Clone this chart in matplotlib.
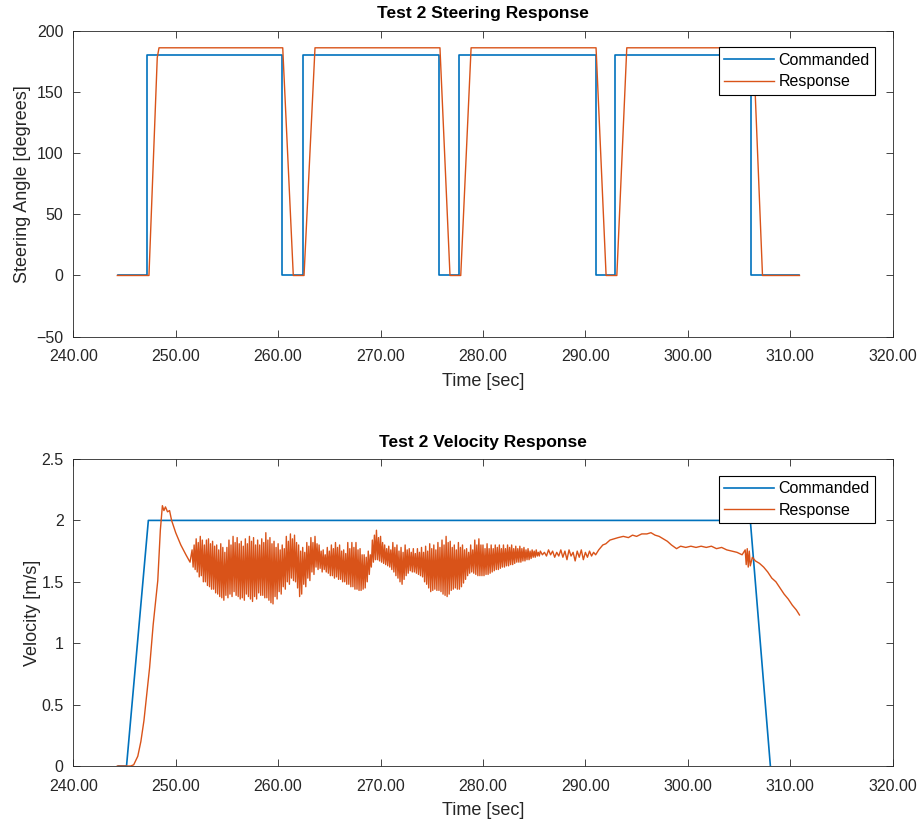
import numpy as np
import matplotlib
matplotlib.use('Agg')
import matplotlib.pyplot as plt
from matplotlib.ticker import FormatStrFormatter

plt.rcParams['font.family'] = ['Liberation Sans', 'DejaVu Sans']

blue = '#0072BD'
orange = '#D95319'

## steering test
steer_cmd_t = [244.4, 247.23, 247.23, 260.41, 260.41, 262.46, 262.46, 275.71, 275.71,
               277.70, 277.70, 291.02, 291.02, 292.93, 292.93, 306.15, 306.15, 310.9]
steer_cmd_v = [0, 0, 180, 180, 0, 0, 180, 180, 0, 0, 180, 180, 0, 0, 180, 180, 0, 0]

steer_resp_t = [244.3, 247.39, 248.2, 248.37, 260.45, 261.48, 262.53, 263.6, 275.8, 276.78,
                277.83, 278.84, 291.04, 292.02, 293.07, 294.04, 306.4, 307.29, 310.9]
steer_resp_v = [0, 0, 178, 186, 186, 0, 0, 186, 186, 0, 0, 186, 186, 0, 0, 186, 186, 0, 0]

## velocity test
vel_cmd_t = [244.4, 245.2, 247.33, 306.1, 308.06]
vel_cmd_v = [0, 0, 2, 2, 0]

# spin-up and overshoot
rise_t = [244.3, 245.6, 245.9, 246.3, 246.6, 246.9, 247.2, 247.45, 247.8, 248.25, 248.5,
          248.7, 248.85, 249.0, 249.2, 249.4, 249.6, 250.0, 250.5, 251.0, 251.4]
rise_v = [0, 0, 0.01, 0.08, 0.2, 0.37, 0.6, 0.8, 1.15, 1.51, 1.92,
          2.12, 2.08, 2.11, 2.07, 2.08, 2.0, 1.90, 1.80, 1.72, 1.66]

# oscillation, one peak and one trough every 0.2 s from 251.6 s (a row is 2 s)
osc_peak = [1.76, 1.80, 1.85, 1.82, 1.87, 1.84, 1.80, 1.84, 1.85, 1.81,
            1.83, 1.79, 1.80, 1.76, 1.81, 1.78, 1.74, 1.78, 1.84, 1.80,
            1.87, 1.82, 1.86, 1.81, 1.83, 1.79, 1.85, 1.81, 1.87, 1.83,
            1.86, 1.80, 1.84, 1.80, 1.85, 1.82, 1.90, 1.84, 1.86, 1.81,
            1.83, 1.78, 1.81, 1.76, 1.80, 1.77, 1.87, 1.83, 1.89, 1.85,
            1.88, 1.82, 1.80, 1.75, 1.78, 1.74, 1.82, 1.79, 1.86, 1.82,
            1.87, 1.81, 1.80, 1.75, 1.76, 1.72, 1.78, 1.75, 1.80, 1.77,
            1.82, 1.78, 1.80, 1.75, 1.76, 1.73, 1.82, 1.77, 1.82, 1.78,
            1.82, 1.76, 1.77, 1.72, 1.72, 1.70, 1.75, 1.72, 1.84, 1.88,
            1.92, 1.86, 1.87, 1.82, 1.80, 1.77, 1.79, 1.76, 1.82, 1.78,
            1.80, 1.75, 1.78, 1.74, 1.80, 1.76, 1.77, 1.74, 1.77, 1.73,
            1.77, 1.74, 1.78, 1.74, 1.79, 1.75, 1.81, 1.77, 1.80, 1.76,
            1.82, 1.78, 1.84, 1.80, 1.87, 1.82, 1.83, 1.78, 1.80, 1.76,
            1.82, 1.78, 1.80, 1.76, 1.77, 1.74, 1.80, 1.76, 1.84, 1.80,
            1.85, 1.80, 1.80, 1.77, 1.81, 1.77, 1.80, 1.77, 1.80, 1.78,
            1.80, 1.77, 1.80, 1.77, 1.80, 1.78, 1.80, 1.77, 1.79, 1.77,
            1.79, 1.77, 1.78, 1.76, 1.77, 1.75, 1.76, 1.75, 1.76, 1.74]
osc_trough = [1.62, 1.60, 1.58, 1.54, 1.55, 1.50, 1.50, 1.47, 1.46, 1.44,
              1.44, 1.41, 1.40, 1.38, 1.37, 1.35, 1.39, 1.37, 1.40, 1.38,
              1.42, 1.39, 1.38, 1.36, 1.37, 1.35, 1.40, 1.38, 1.36, 1.34,
              1.38, 1.36, 1.41, 1.39, 1.39, 1.37, 1.37, 1.35, 1.33, 1.32,
              1.38, 1.36, 1.42, 1.40, 1.46, 1.44, 1.50, 1.48, 1.53, 1.51,
              1.50, 1.45, 1.38, 1.40, 1.48, 1.46, 1.53, 1.51, 1.58, 1.56,
              1.62, 1.60, 1.61, 1.58, 1.60, 1.58, 1.57, 1.55, 1.55, 1.53,
              1.54, 1.52, 1.52, 1.50, 1.50, 1.48, 1.48, 1.46, 1.46, 1.44,
              1.44, 1.43, 1.43, 1.44, 1.45, 1.50, 1.56, 1.62, 1.66, 1.68,
              1.68, 1.67, 1.66, 1.65, 1.64, 1.63, 1.62, 1.60, 1.58, 1.55,
              1.53, 1.50, 1.48, 1.52, 1.55, 1.57, 1.59, 1.58, 1.58, 1.57,
              1.56, 1.55, 1.54, 1.50, 1.48, 1.45, 1.42, 1.43, 1.44, 1.43,
              1.43, 1.42, 1.40, 1.39, 1.38, 1.40, 1.43, 1.44, 1.45, 1.44,
              1.44, 1.46, 1.49, 1.52, 1.55, 1.57, 1.58, 1.57, 1.56, 1.55,
              1.55, 1.55, 1.55, 1.56, 1.56, 1.57, 1.58, 1.59, 1.60, 1.60,
              1.61, 1.62, 1.62, 1.63, 1.63, 1.64, 1.64, 1.65, 1.66, 1.66,
              1.66, 1.67, 1.67, 1.68, 1.68, 1.69, 1.70, 1.70, 1.71, 1.71]

# small jitter every 0.2 s from 285.6 s
jitter_v = [1.75, 1.72, 1.74, 1.71, 1.76, 1.72, 1.75, 1.70, 1.74, 1.71,
            1.76, 1.70, 1.75, 1.68, 1.76, 1.71, 1.74, 1.67, 1.75, 1.70,
            1.76, 1.68, 1.74, 1.70, 1.75, 1.71, 1.74, 1.72]

tail_t = [291.3, 291.7, 292.0, 292.4, 292.8, 293.2, 293.7, 294.2, 294.6, 295.0,
          295.5, 296.0, 296.4, 296.8, 297.2, 297.6, 298.0, 298.4, 298.9, 299.3,
          299.8, 300.3, 300.8, 301.3, 301.8, 302.3, 302.8, 303.3, 303.8, 304.3,
          304.8, 305.3, 305.6, 305.7, 305.8, 305.9, 306.0, 306.1, 306.3, 306.6,
          307.0, 307.4, 307.8, 308.2, 308.6, 309.0, 309.4, 309.8, 310.2, 310.6, 310.9]
tail_v = [1.76, 1.80, 1.81, 1.84, 1.85, 1.86, 1.87, 1.86, 1.88, 1.87,
          1.89, 1.89, 1.90, 1.88, 1.87, 1.85, 1.83, 1.80, 1.77, 1.79,
          1.78, 1.79, 1.78, 1.79, 1.78, 1.79, 1.77, 1.78, 1.76, 1.75,
          1.74, 1.72, 1.76, 1.64, 1.77, 1.62, 1.75, 1.63, 1.70, 1.67,
          1.65, 1.62, 1.58, 1.53, 1.50, 1.45, 1.40, 1.36, 1.31, 1.27, 1.23]

osc_t = 251.6 + 0.1 * np.arange(2 * len(osc_peak))
osc_v = np.ravel(np.column_stack([osc_peak, osc_trough]))
jitter_t = 285.6 + 0.2 * np.arange(len(jitter_v))

vel_resp_t = np.concatenate([rise_t, osc_t, jitter_t, tail_t])
vel_resp_v = np.concatenate([rise_v, osc_v, jitter_v, tail_v])

fig = plt.figure(figsize=(9.24, 8.22), dpi=100)
ax1 = fig.add_axes([0.0793, 0.5904, 0.8868, 0.3723])
ax2 = fig.add_axes([0.0793, 0.0681, 0.8868, 0.3735])

ax1.plot(steer_cmd_t, steer_cmd_v, color=blue, lw=1.2, label='Commanded')
ax1.plot(steer_resp_t, steer_resp_v, color=orange, lw=1.0, label='Response')
ax2.plot(vel_cmd_t, vel_cmd_v, color=blue, lw=1.2, label='Commanded')
ax2.plot(vel_resp_t, vel_resp_v, color=orange, lw=1.0, label='Response')

ax1.set_ylim(-50, 200)
ax1.set_yticks(np.arange(-50, 201, 50))
ax1.set_ylabel('Steering Angle [degrees]', fontsize=13, color='#262626', labelpad=4)
ax1.set_title('Test 2 Steering Response', fontsize=12.5, fontweight='bold', pad=9)

ax2.set_ylim(0, 2.5)
ax2.set_yticks([0, 0.5, 1, 1.5, 2, 2.5])
ax2.set_yticklabels(['0', '0.5', '1', '1.5', '2', '2.5'])
ax2.set_ylabel('Velocity [m/s]', fontsize=13, color='#262626', labelpad=0)
ax2.set_title('Test 2 Velocity Response', fontsize=12.5, fontweight='bold', pad=9)

for ax in (ax1, ax2):
    ax.set_xlim(240, 320)
    ax.set_xticks(np.arange(240, 321, 10))
    ax.xaxis.set_major_formatter(FormatStrFormatter('%.2f'))
    ax.set_xlabel('Time [sec]', fontsize=13, color='#262626', labelpad=6)
    ax.tick_params(direction='in', top=True, right=True, length=5, width=0.6,
                   labelsize=11.5, colors='#262626')
    ax.tick_params(axis='x', pad=9)
    ax.tick_params(axis='y', pad=7)
    for s in ax.spines.values():
        s.set_linewidth(0.6)
        s.set_color('#262626')
    leg = ax.legend(loc='upper right', bbox_to_anchor=(0.979, 0.946), borderaxespad=0,
                    fontsize=11.5, handlelength=3.1, fancybox=False, framealpha=1,
                    edgecolor='black', borderpad=0.35, labelspacing=0.4, handletextpad=0.3)
    leg.get_frame().set_linewidth(0.8)

plt.savefig('out.png', dpi=100)
